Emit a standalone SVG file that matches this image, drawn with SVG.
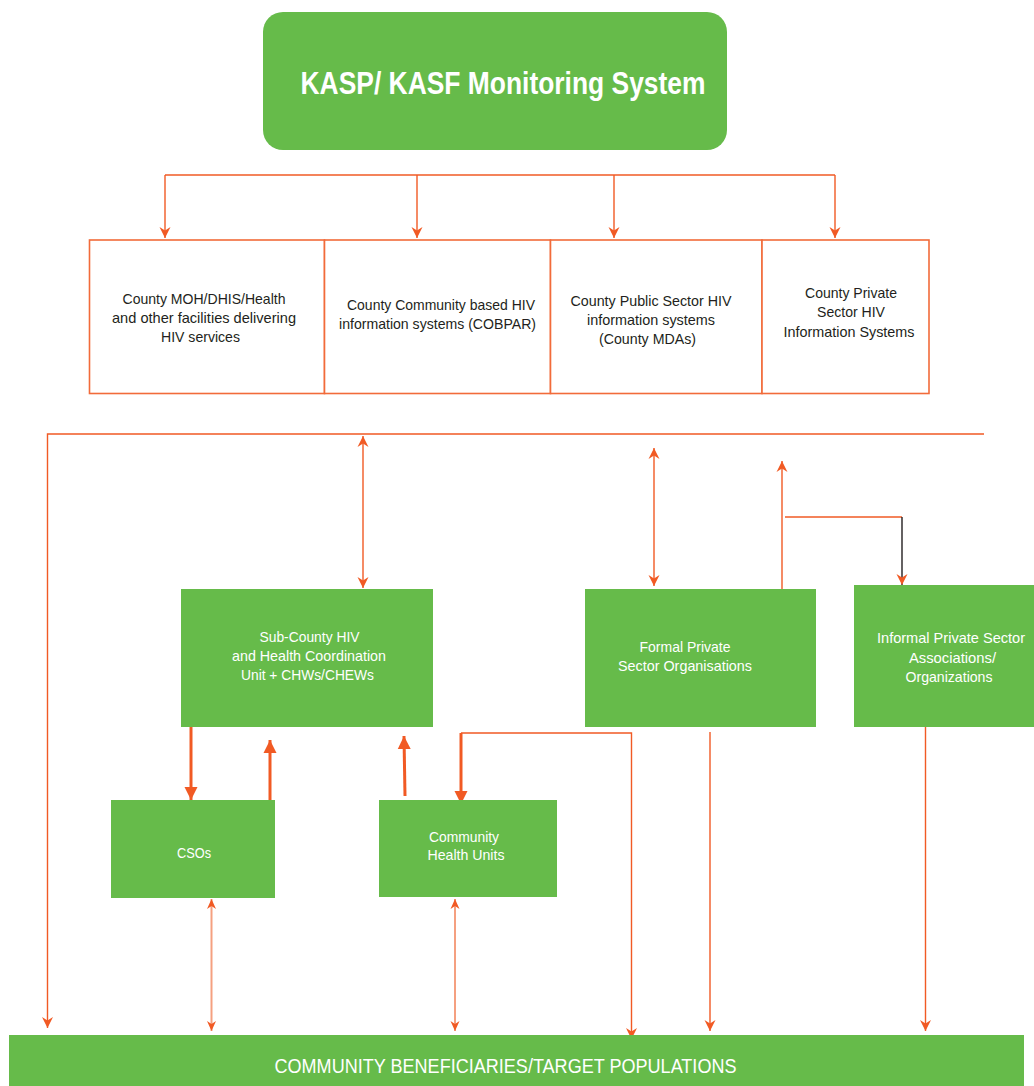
<svg xmlns="http://www.w3.org/2000/svg" width="1034" height="1086" viewBox="0 0 1034 1086">
<style>
.g{fill:#66bb4a}
.box{fill:#fff;stroke:#f26b3a;stroke-width:1.6}
.t{font-family:"Liberation Sans",Arial,sans-serif;font-size:14.5px;fill:#231f20;text-anchor:middle}
.w{fill:#fff}
.c{fill:none;stroke:#f15a24;stroke-width:1.4}
.ck{fill:none;stroke:#f15a24;stroke-width:3}
.cs{fill:none;stroke:#f5a080;stroke-width:2}
</style>
<defs>
<marker id="ah" markerUnits="userSpaceOnUse" markerWidth="12" markerHeight="12" refX="11" refY="6" orient="auto-start-reverse" viewBox="0 0 12 12">
<path d="M0,0.5 L11,6 L0,11.5 L3.5,6 Z" fill="#f15a24"/>
</marker>
<marker id="ahs" markerUnits="userSpaceOnUse" markerWidth="11" markerHeight="10" refX="10" refY="5" orient="auto-start-reverse" viewBox="0 0 11 10">
<path d="M0,0.5 L10,5 L0,9.5 L3,5 Z" fill="#f15a24"/>
</marker>
<marker id="ahk" markerUnits="userSpaceOnUse" markerWidth="14" markerHeight="14" refX="13" refY="7" orient="auto-start-reverse" viewBox="0 0 14 14">
<path d="M0,0.5 L13,7 L0,13.5 Z" fill="#f15a24"/>
</marker>
</defs>

<g id="connectors">
<path class="c" d="M165,175 H835"/>
<path class="c" d="M165,175 V238" marker-end="url(#ah)"/>
<path class="c" d="M417,175 V238" marker-end="url(#ah)"/>
<path class="c" d="M614,175 V238" marker-end="url(#ah)"/>
<path class="c" d="M835,175 V238" marker-end="url(#ah)"/>
<path class="c" d="M984,434 H47.5 V1028" marker-end="url(#ah)"/>
<path class="c" d="M363,436 V588" marker-start="url(#ah)" marker-end="url(#ah)"/>
<path class="c" d="M654,448 V586" marker-start="url(#ah)" marker-end="url(#ah)"/>
<path class="c" d="M782,589 V461" marker-end="url(#ah)"/>
<path class="c" d="M785,517 H902"/>
<path d="M902,517 V585" fill="none" stroke="#231f20" stroke-width="1.4" marker-end="url(#ah)"/>
<path class="ck" d="M191,727 V800" marker-end="url(#ahk)"/>
<path class="ck" d="M270,800 V740" marker-end="url(#ahk)"/>
<path class="ck" d="M405,796 L404,736" marker-end="url(#ahk)"/>
<path class="c" d="M461,733 H631.5 V1039" marker-end="url(#ah)"/>
<path class="ck" d="M461,733 V804" marker-end="url(#ahk)"/>
<path class="c" d="M710,732 V1031" marker-end="url(#ah)"/>
<path class="c" d="M925.5,727 V1031" marker-end="url(#ah)"/>
<path class="cs" d="M211.5,899 V1031" marker-start="url(#ahs)" marker-end="url(#ahs)"/>
<path class="cs" d="M455,899 V1031" marker-start="url(#ahs)" marker-end="url(#ahs)"/>
</g>

<g id="title">
<rect class="g" x="263" y="12" width="464" height="138" rx="20"/>
<text x="503" y="94" font-family="Liberation Sans,Arial,sans-serif" font-size="32" font-weight="bold" fill="#fff" text-anchor="middle" textLength="405" lengthAdjust="spacingAndGlyphs">KASP/ KASF Monitoring System</text>
</g>

<g id="county-moh">
<rect class="box" x="89.5" y="240" width="235" height="153.5"/>
<text class="t" x="204" y="304" textLength="163" lengthAdjust="spacingAndGlyphs">County MOH/DHIS/Health</text>
<text class="t" x="204" y="323" textLength="184" lengthAdjust="spacingAndGlyphs">and other facilities delivering</text>
<text class="t" x="200.5" y="342" textLength="79" lengthAdjust="spacingAndGlyphs">HIV services</text>
</g>

<g id="county-community">
<rect class="box" x="324.5" y="240" width="226" height="153.5"/>
<text class="t" x="441" y="310" textLength="188" lengthAdjust="spacingAndGlyphs">County Community based HIV</text>
<text class="t" x="437.5" y="329" textLength="197" lengthAdjust="spacingAndGlyphs">information systems (COBPAR)</text>
</g>

<g id="county-public">
<rect class="box" x="550.5" y="240" width="211.5" height="153.5"/>
<text class="t" x="651" y="306" textLength="161" lengthAdjust="spacingAndGlyphs">County Public Sector HIV</text>
<text class="t" x="651" y="325" textLength="128" lengthAdjust="spacingAndGlyphs">information systems</text>
<text class="t" x="647.5" y="344" textLength="97" lengthAdjust="spacingAndGlyphs">(County MDAs)</text>
</g>

<g id="county-private">
<rect class="box" x="762" y="240" width="167" height="153.5"/>
<text class="t" x="851" y="298" textLength="92" lengthAdjust="spacingAndGlyphs">County Private</text>
<text class="t" x="851" y="317" textLength="68" lengthAdjust="spacingAndGlyphs">Sector HIV</text>
<text class="t" x="849" y="337" textLength="131" lengthAdjust="spacingAndGlyphs">Information Systems</text>
</g>

<g id="sub-county">
<rect class="g" x="181" y="589" width="252" height="138"/>
<text class="t w" x="309.5" y="642" textLength="100" lengthAdjust="spacingAndGlyphs">Sub-County HIV</text>
<text class="t w" x="309" y="661" textLength="154" lengthAdjust="spacingAndGlyphs">and Health Coordination</text>
<text class="t w" x="307.5" y="680" textLength="133" lengthAdjust="spacingAndGlyphs">Unit + CHWs/CHEWs</text>
</g>

<g id="formal-private">
<rect class="g" x="585" y="589" width="231" height="138"/>
<text class="t w" x="685" y="652" textLength="91" lengthAdjust="spacingAndGlyphs">Formal Private</text>
<text class="t w" x="685" y="671" textLength="134" lengthAdjust="spacingAndGlyphs">Sector Organisations</text>
</g>

<g id="informal-private">
<rect class="g" x="854" y="585" width="180" height="142"/>
<text class="t w" x="951" y="643" textLength="148" lengthAdjust="spacingAndGlyphs">Informal Private Sector</text>
<text class="t w" x="952.5" y="663" textLength="87" lengthAdjust="spacingAndGlyphs">Associations/</text>
<text class="t w" x="949" y="682" textLength="87" lengthAdjust="spacingAndGlyphs">Organizations</text>
</g>

<g id="csos">
<rect class="g" x="111" y="800" width="164" height="98"/>
<text class="t w" x="194" y="858" textLength="34" lengthAdjust="spacingAndGlyphs">CSOs</text>
</g>

<g id="community-health-units">
<rect class="g" x="379" y="800" width="178" height="97"/>
<text class="t w" x="464" y="842" textLength="70" lengthAdjust="spacingAndGlyphs">Community</text>
<text class="t w" x="466" y="860" textLength="77" lengthAdjust="spacingAndGlyphs">Health Units</text>
</g>

<g id="community-beneficiaries">
<rect class="g" x="9" y="1035" width="1015" height="51"/>
<text x="505.5" y="1073" font-family="Liberation Sans,Arial,sans-serif" font-size="20" fill="#fff" text-anchor="middle" textLength="462" lengthAdjust="spacingAndGlyphs">COMMUNITY BENEFICIARIES/TARGET POPULATIONS</text>
</g>
</svg>
